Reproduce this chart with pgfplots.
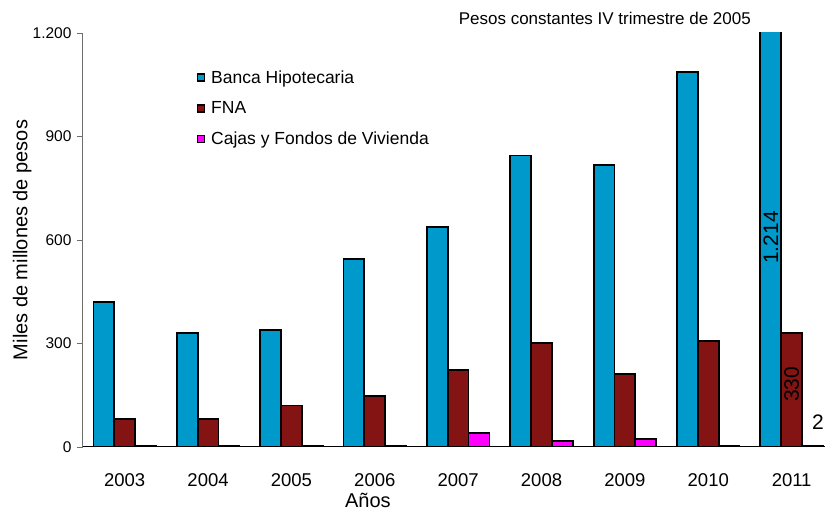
\documentclass[border=0pt]{standalone}
\usepackage{fontspec}
\setmainfont{Liberation Sans}
\usepackage{pgfplots}
\pgfplotsset{compat=1.18}

\definecolor{banca}{RGB}{0,153,204}
\definecolor{fna}{RGB}{132,20,20}
\definecolor{cajas}{RGB}{255,0,255}
\definecolor{yaxis}{RGB}{110,110,110}

\begin{document}
\begin{tikzpicture}
\begin{axis}[
    scale only axis,
    width=742pt, height=414pt,
    xmin=-0.5, xmax=8.4,
    ymin=0, ymax=1200,
    axis x line*=bottom,
    axis y line*=left,
    y axis line style={yaxis, line width=1pt},
    x axis line style={black, line width=1pt},
    ytick={0,300,600,900,1200},
    yticklabels={0,300,600,900,1.200},
    xtick={0,...,8},
    xticklabels={2003,2004,2005,2006,2007,2008,2009,2010,2011},
    minor xtick={-0.5,0.5,...,7.5},
    tick align=outside,
    major tick length=6pt,
    minor tick length=6pt,
    xtick style={draw=none},
    minor x tick style={black, line width=0.8pt},
    ytick style={yaxis, line width=0.8pt},
    /pgf/number format/assume math mode=true,
    xticklabel style={font=\fontsize{18.5}{20}\selectfont, yshift=-17pt},
    yticklabel style={font=\fontsize{15.5}{18}\selectfont, xshift=-2pt},
    ylabel={Miles de millones de pesos},
    ylabel style={at={(axis description cs:-0.082,0.5)}, anchor=center,
        font=\fontsize{20}{24}\selectfont},
    xlabel={Años},
    xlabel style={at={(axis description cs:0.384,-0.128)}, anchor=center,
        font=\fontsize{20}{24}\selectfont},
    bar width=0.25,
    legend style={at={(axis description cs:0.153,0.915)}, anchor=north west,
        draw=none, fill=none, inner sep=0pt, row sep=13pt,
        font=\fontsize{17.5}{19}\selectfont,
        nodes={inner xsep=6pt}},
    legend cell align=left,
    legend image code/.code={\draw[#1, line width=1.5pt] (0pt,-3.5pt) rectangle (7pt,3.5pt);},
]

\addplot[ybar, bar shift=-0.25, fill=banca, draw=black, line width=1.8pt]
    coordinates {(0,420)(1,331)(2,338)(3,544)(4,638)(5,845)(6,817)(7,1088)(8,1214)};
\addlegendentry{Banca Hipotecaria}

\addplot[ybar, bar shift=0, fill=fna, draw=black, line width=1.8pt]
    coordinates {(0,82)(1,82)(2,120)(3,147)(4,224)(5,301)(6,212)(7,308)(8,330)};
\addlegendentry{FNA}

\addplot[ybar, bar shift=0.25, fill=cajas, draw=black, line width=1.8pt]
    coordinates {(0,3)(1,3)(2,3)(3,3)(4,41)(5,17)(6,24)(7,3)(8,2)};
\addlegendentry{Cajas y Fondos de Vivienda}

\node[rotate=90, font=\fontsize{21}{24}\selectfont] at (axis cs:7.75,607) {1.214};
\node[rotate=90, font=\fontsize{21}{24}\selectfont] at (axis cs:8,182) {330};
\end{axis}
\node[anchor=west, font=\fontsize{21}{24}\selectfont, inner sep=0pt] at (729pt,25pt) {2};
\node[anchor=east, font=\fontsize{17}{19}\selectfont, inner sep=0pt] at (668pt,429pt) {Pesos constantes IV trimestre de 2005};
\pgfresetboundingbox
\useasboundingbox (-83pt,-67pt) rectangle (742pt,447pt);
\end{tikzpicture}
\end{document}
